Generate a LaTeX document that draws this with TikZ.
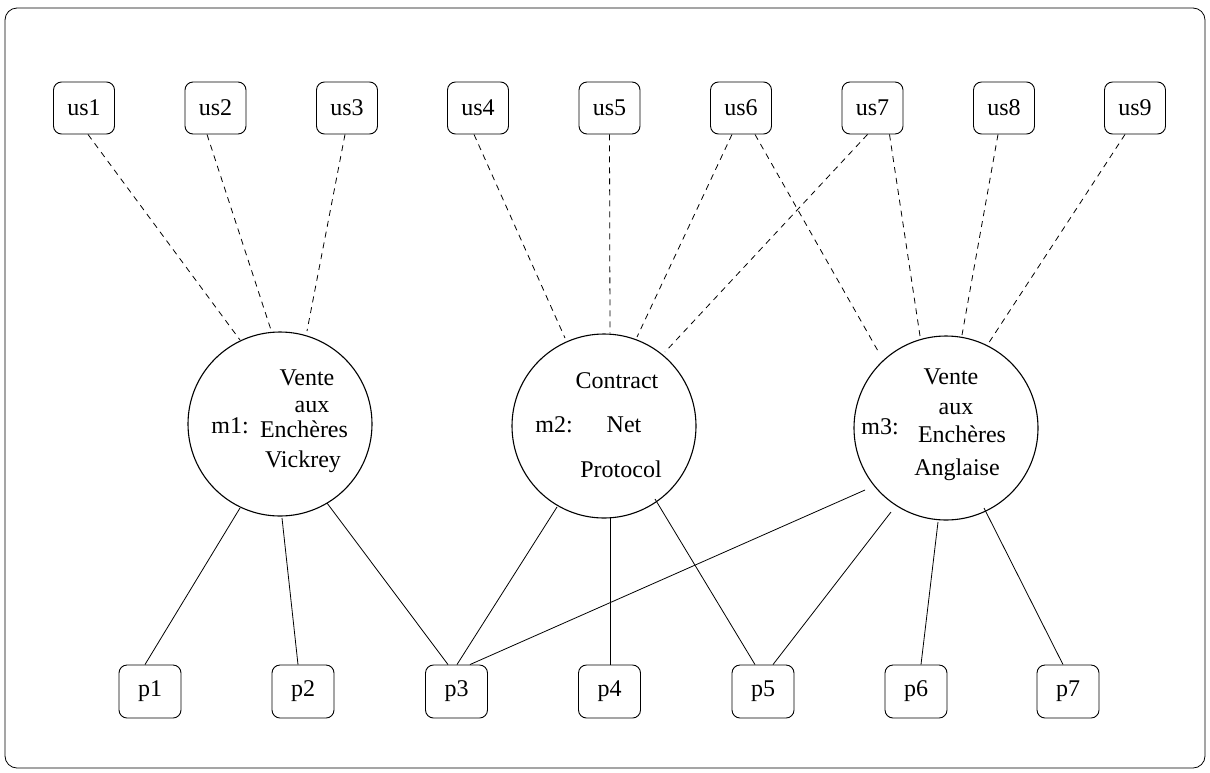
\documentclass[tikz,border=0pt]{standalone}
\usepackage{fontspec}
\setmainfont{Liberation Serif}
\usetikzlibrary{calc}
\begin{document}
\begin{tikzpicture}[x=1pt,y=-1pt,
  every node/.style={font=\fontsize{24}{28}\selectfont},
  box/.style={draw,rounded corners=8pt,minimum width=61pt,minimum height=52pt,inner sep=0pt,line width=0.9pt},
  machine/.style={draw,circle,minimum size=184pt,inner sep=0pt,line width=1.1pt},
  lbl/.style={anchor=base,inner sep=0pt},
  dashlink/.style={line width=0.8pt,dash pattern=on 6pt off 5pt},
  solidlink/.style={line width=0.8pt}]
\useasboundingbox (0,0) rectangle (1210,772);
\draw[line width=0.8pt,rounded corners=12pt] (5,8) rectangle (1205,768);
% user boxes
\node[box] (us1) at (84,108) {us1};
\node[box] (us2) at (215.5,108) {us2};
\node[box] (us3) at (347,108) {us3};
\node[box] (us4) at (478,108) {us4};
\node[box] (us5) at (609.5,108) {us5};
\node[box] (us6) at (741,108) {us6};
\node[box] (us7) at (872.5,108) {us7};
\node[box] (us8) at (1004,108) {us8};
\node[box] (us9) at (1135,108) {us9};
% provider boxes
\node[box,minimum width=62pt,minimum height=53pt] (p1) at (150,691.5) {p1};
\node[box,minimum width=62pt,minimum height=53pt] (p2) at (303,691.5) {p2};
\node[box,minimum width=62pt,minimum height=53pt] (p3) at (456.5,691.5) {p3};
\node[box,minimum width=62pt,minimum height=53pt] (p4) at (609.5,691.5) {p4};
\node[box,minimum width=62pt,minimum height=53pt] (p5) at (763,691.5) {p5};
\node[box,minimum width=62pt,minimum height=53pt] (p6) at (916,691.5) {p6};
\node[box,minimum width=62pt,minimum height=53pt] (p7) at (1068,691.5) {p7};
% machines
\node[machine] (m1) at (280,424) {};
\node[machine] (m2) at (604,426) {};
\node[machine] (m3) at (946,428) {};
% labels m1
\node[lbl] (m1n) at (230,433) {m1:};
\node[lbl] (m1a) at (307,385) {Vente};
\node[lbl] (m1b) at (312,412) {aux};
\node[lbl] (m1c) at (304,437) {Enchères};
\node[lbl] (m1d) at (303,467) {Vickrey};
% labels m2
\node[lbl] (m2n) at (554,432) {m2:};
\node[lbl] (m2a) at (617,388) {Contract};
\node[lbl] (m2b) at (624,432) {Net};
\node[lbl] (m2c) at (621,477) {Protocol};
% labels m3
\node[lbl] (m3n) at (880,434) {m3:};
\node[lbl] (m3a) at (951,384) {Vente};
\node[lbl] (m3b) at (956,414) {aux};
\node[lbl] (m3c) at (962,442) {Enchères};
\node[lbl] (m3d) at (957,475) {Anglaise};
% dashed links users -> machines
\draw[dashlink] ($(us1.south)+(4,0)$) -- ($(m1)+(-40,-84)$);
\draw[dashlink] ($(us2.south)+(-8.5,0)$) -- ($(m1)+(-9,-94)$);
\draw[dashlink] ($(us3.south)+(-2,0)$) -- ($(m1)+(27,-93)$);
\draw[dashlink] ($(us4.south)+(-4,0)$) -- ($(m2)+(-39,-88)$);
\draw[dashlink] ($(us5.south)+(0,0)$) -- ($(m2)+(6,-93)$);
\draw[dashlink] ($(us6.south)+(-9,0)$) -- ($(m2)+(33,-89)$);
\draw[dashlink] ($(us7.south)+(-5,0)$) -- ($(m2)+(61,-74)$);
\draw[dashlink] ($(us6.south)+(14,0)$) -- ($(m3)+(-68,-77)$);
\draw[dashlink] ($(us7.south)+(17,0)$) -- ($(m3)+(-26,-92)$);
\draw[dashlink] ($(us8.south)+(-6,0)$) -- ($(m3)+(16,-93)$);
\draw[dashlink] ($(us9.south)+(-10,0)$) -- ($(m3)+(42,-84)$);
% solid links machines -> providers
\draw[solidlink] ($(m1)+(-40,84)$) -- ($(p1.north)+(-5,0)$);
\draw[solidlink] ($(m1)+(2,94)$) -- ($(p2.north)+(-5,0)$);
\draw[solidlink] ($(m1)+(47,79)$) -- ($(p3.north)+(-8.5,0)$);
\draw[solidlink] ($(m2)+(-47,81)$) -- ($(p3.north)+(0.5,0)$);
\draw[solidlink] ($(m2)+(6,92)$) -- ($(p4.north)+(0.5,0)$);
\draw[solidlink] ($(m2)+(51,73)$) -- ($(p5.north)+(-8,0)$);
\draw[solidlink] ($(m3)+(-81,62)$) -- ($(p3.north)+(13.5,0)$);
\draw[solidlink] ($(m3)+(-55,84)$) -- ($(p5.north)+(10,0)$);
\draw[solidlink] ($(m3)+(-8,94)$) -- ($(p6.north)+(5,0)$);
\draw[solidlink] ($(m3)+(38,80)$) -- ($(p7.north)+(-5,0)$);
\end{tikzpicture}
\end{document}
